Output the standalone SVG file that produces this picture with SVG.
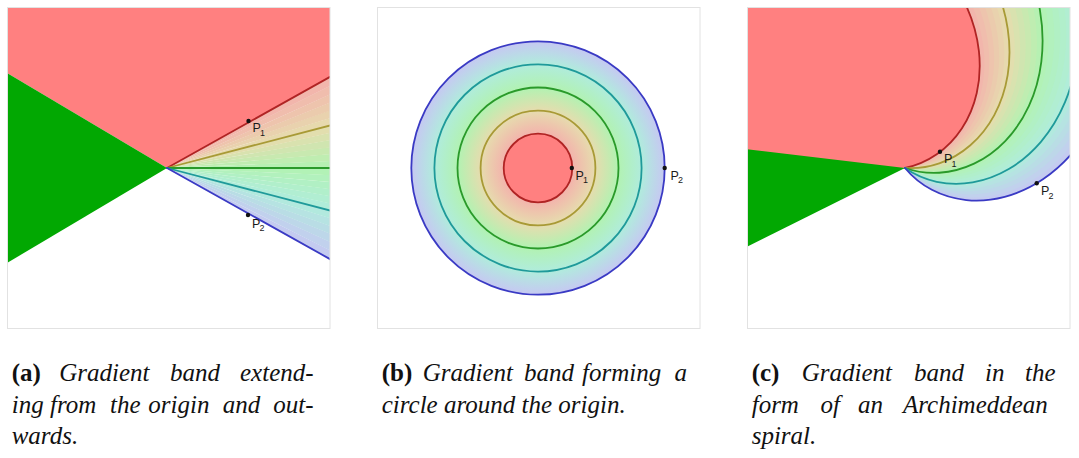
<svg xmlns="http://www.w3.org/2000/svg" xmlns:xlink="http://www.w3.org/1999/xlink" width="1079" height="458" viewBox="0 0 1079 458">
<style>
.frame{fill:none;stroke:#e2e2e2;stroke-width:1}
.red{fill:#ff8080}
.grn{fill:#02a802}
.ln{fill:none;stroke-width:1.8;stroke-linecap:round}
.lr{stroke:#b02424}.lo{stroke:#a89a36}.lg{stroke:#2a9a2a}.lt{stroke:#1f9a9a}.lb{stroke:#3a3ac4}
.dot{fill:#111}
.lbl{font-family:"Liberation Sans",Arial,sans-serif;font-size:12.5px;fill:#1a1a1a}
.sub{font-size:9px}
.cap{font-family:"Liberation Serif","Times New Roman",serif;font-size:25px;fill:#111}
.it{font-style:italic}
.bf{font-weight:bold}
.g0{fill:#c4cbf0}.g1{fill:#c1d1ed}.g2{fill:#bdd7e9}.g3{fill:#b9dde5}.g4{fill:#b6e3e2}.g5{fill:#b2e9de}
.g6{fill:#b0edd9}.g7{fill:#b1eed2}.g8{fill:#b1efcb}.g9{fill:#b1f0c4}.g10{fill:#b2f1bd}.g11{fill:#b2f2b6}
.g12{fill:#b6f0b2}.g13{fill:#bfedb1}.g14{fill:#c8e9b0}.g15{fill:#d0e5b0}.g16{fill:#d9e2af}.g17{fill:#e2deae}
.g18{fill:#e7d9ae}.g19{fill:#e9d2ae}.g20{fill:#ebcbad}.g21{fill:#eec4ad}.g22{fill:#f0bdad}.g23{fill:#f2b6ac}
</style>
<defs>
<path id="W" d="M0,0 L400,0 L400,17.6 Z"/>
<path id="SP" d="M0,0 C11.53,0 23.06,-2.32 33.91,-6.87 C44.76,-11.42 54.91,-18.21 63.74,-26.95 C72.57,-35.69 80.06,-46.39 85.67,-58.61 C91.28,-70.83 95,-84.59 96.42,-99.29 C97.84,-113.99 96.94,-129.64 93.47,-145.58 C90,-161.52 83.95,-177.72 75.23,-193.48 C66.51,-209.24 55.12,-224.55 41.17,-238.66"/>
<path id="S" d="M0,0 C11.53,0 23.06,-2.32 33.91,-6.87 C44.76,-11.42 54.91,-18.21 63.74,-26.95 C72.57,-35.69 80.06,-46.39 85.67,-58.61 C91.28,-70.83 95,-84.59 96.42,-99.29 C97.84,-113.99 96.94,-129.64 93.47,-145.58 C90,-161.52 83.95,-177.72 75.23,-193.48 C66.51,-209.24 55.12,-224.55 41.17,-238.66 L119,-690 L-412,-566 L-693,-99 L-628,310 L-343,610 Z"/>
<clipPath id="clipA"><rect x="7" y="7" width="323" height="322"/></clipPath>
<clipPath id="clipC"><rect x="747" y="7" width="323" height="322"/></clipPath>
<clipPath id="clipCB"><use xlink:href="#S" href="#S" transform="translate(905,168) rotate(50.53)"/></clipPath>
<radialGradient id="rg" gradientUnits="userSpaceOnUse" cx="538" cy="168" r="126.7">
<stop offset="0" stop-color="#f3b3ac"/>
<stop offset="0.2707" stop-color="#f3b3ac"/>
<stop offset="0.453" stop-color="#e6dcae"/>
<stop offset="0.635" stop-color="#b2f2b2"/>
<stop offset="0.818" stop-color="#b0ecdc"/>
<stop offset="1" stop-color="#c6c8f2"/>
</radialGradient>
</defs>
<rect x="0" y="0" width="1079" height="458" fill="#ffffff"/>

<g id="panel-a">
<g clip-path="url(#clipA)">
<polygon class="red" points="7,7 330,7 330,76.9 167,168 7,73"/>
<polygon class="grn" points="7,73 167,168 7,263"/>
<g transform="translate(167,168)">
<use href="#W" class="g0" transform="rotate(26.77)"/>
<use href="#W" class="g1" transform="rotate(24.33)"/>
<use href="#W" class="g2" transform="rotate(21.9)"/>
<use href="#W" class="g3" transform="rotate(19.47)"/>
<use href="#W" class="g4" transform="rotate(17.03)"/>
<use href="#W" class="g5" transform="rotate(14.6)"/>
<use href="#W" class="g6" transform="rotate(12.17)"/>
<use href="#W" class="g7" transform="rotate(9.73)"/>
<use href="#W" class="g8" transform="rotate(7.3)"/>
<use href="#W" class="g9" transform="rotate(4.87)"/>
<use href="#W" class="g10" transform="rotate(2.43)"/>
<use href="#W" class="g11" transform="rotate(0)"/>
<use href="#W" class="g12" transform="rotate(-2.43)"/>
<use href="#W" class="g13" transform="rotate(-4.87)"/>
<use href="#W" class="g14" transform="rotate(-7.3)"/>
<use href="#W" class="g15" transform="rotate(-9.73)"/>
<use href="#W" class="g16" transform="rotate(-12.17)"/>
<use href="#W" class="g17" transform="rotate(-14.6)"/>
<use href="#W" class="g18" transform="rotate(-17.03)"/>
<use href="#W" class="g19" transform="rotate(-19.47)"/>
<use href="#W" class="g20" transform="rotate(-21.9)"/>
<use href="#W" class="g21" transform="rotate(-24.33)"/>
<use href="#W" class="g22" transform="rotate(-26.77)"/>
<use href="#W" class="g23" transform="rotate(-29.2)"/>
</g>
<line class="ln lr" x1="167" y1="168" x2="335" y2="74.1"/>
<line class="ln lo" x1="167" y1="168" x2="335" y2="124.2"/>
<line class="ln lg" x1="167" y1="168" x2="335" y2="168"/>
<line class="ln lt" x1="167" y1="168" x2="335" y2="211.8"/>
<line class="ln lb" x1="167" y1="168" x2="335" y2="261.9"/>
</g>
<rect class="frame" x="7.5" y="7.5" width="322.5" height="321"/>
<circle class="dot" cx="248.5" cy="121" r="2.2"/>
<text class="lbl" x="252.5" y="132">P<tspan class="sub" x="260" y="135.5">1</tspan></text>
<circle class="dot" cx="248" cy="215" r="2.2"/>
<text class="lbl" x="252" y="227.5">P<tspan class="sub" x="259.5" y="231">2</tspan></text>
</g>

<g id="panel-b">
<circle cx="538" cy="168" r="126.7" fill="url(#rg)"/>
<circle class="red" cx="538" cy="168" r="34.3"/>
<circle class="ln lr" cx="538" cy="168" r="34.3"/>
<circle class="ln lo" cx="538" cy="168" r="57.4"/>
<circle class="ln lg" cx="538" cy="168" r="80.5"/>
<circle class="ln lt" cx="538" cy="168" r="103.6"/>
<circle class="ln lb" cx="538" cy="168" r="126.7"/>
<rect class="frame" x="377.5" y="7.5" width="322.5" height="321"/>
<circle class="dot" cx="571.8" cy="168" r="2.2"/>
<text class="lbl" x="575.5" y="179.5">P<tspan class="sub" x="583" y="183">1</tspan></text>
<circle class="dot" cx="664.7" cy="168" r="2.2"/>
<text class="lbl" x="670.5" y="179.5">P<tspan class="sub" x="678" y="183">2</tspan></text>
</g>

<g id="panel-c">
<g clip-path="url(#clipC)">
<g clip-path="url(#clipCB)">
<g transform="translate(905,168)">
<use href="#S" class="g0" transform="rotate(50.53)"/>
<use href="#S" class="g1" transform="rotate(47.93)"/>
<use href="#S" class="g2" transform="rotate(45.33)"/>
<use href="#S" class="g3" transform="rotate(42.73)"/>
<use href="#S" class="g4" transform="rotate(40.13)"/>
<use href="#S" class="g5" transform="rotate(37.53)"/>
<use href="#S" class="g6" transform="rotate(34.93)"/>
<use href="#S" class="g7" transform="rotate(32.32)"/>
<use href="#S" class="g8" transform="rotate(29.72)"/>
<use href="#S" class="g9" transform="rotate(27.12)"/>
<use href="#S" class="g10" transform="rotate(24.52)"/>
<use href="#S" class="g11" transform="rotate(21.92)"/>
<use href="#S" class="g12" transform="rotate(19.32)"/>
<use href="#S" class="g13" transform="rotate(16.72)"/>
<use href="#S" class="g14" transform="rotate(14.12)"/>
<use href="#S" class="g15" transform="rotate(11.52)"/>
<use href="#S" class="g16" transform="rotate(8.91)"/>
<use href="#S" class="g17" transform="rotate(6.31)"/>
<use href="#S" class="g18" transform="rotate(3.71)"/>
<use href="#S" class="g19" transform="rotate(1.11)"/>
<use href="#S" class="g20" transform="rotate(-1.49)"/>
<use href="#S" class="g21" transform="rotate(-4.09)"/>
<use href="#S" class="g22" transform="rotate(-6.69)"/>
<use href="#S" class="g23" transform="rotate(-9.29)"/>
<use href="#S" class="red" transform="rotate(-11.89)"/>
</g>
</g>
<polygon class="grn" points="747,149.3 905,168 747,246.7"/>
<g transform="translate(905,168)">
<use href="#SP" class="ln lr" transform="rotate(-11.89)"/>
<use href="#SP" class="ln lo" transform="rotate(3.72)"/>
<use href="#SP" class="ln lg" transform="rotate(19.31)"/>
<use href="#SP" class="ln lt" transform="rotate(34.95)"/>
<use href="#SP" class="ln lb" transform="rotate(50.53)"/>
</g>
</g>
<rect class="frame" x="747.5" y="7.5" width="322.5" height="321"/>
<circle class="dot" cx="940" cy="151.7" r="2.2"/>
<text class="lbl" x="944" y="163">P<tspan class="sub" x="951.5" y="166.5">1</tspan></text>
<circle class="dot" cx="1036.7" cy="183.3" r="2.2"/>
<text class="lbl" x="1041" y="195">P<tspan class="sub" x="1048.5" y="198.5">2</tspan></text>
</g>

<g id="captions">
<text class="cap" y="381"><tspan class="bf" x="11.7">(a)</tspan><tspan class="it" x="59.3">Gradient</tspan><tspan class="it" x="170">band</tspan><tspan class="it" x="240">extend-</tspan></text>
<text class="cap it" y="412.5"><tspan x="11.7">ing</tspan><tspan x="50">from</tspan><tspan x="110">the</tspan><tspan x="148.3">origin</tspan><tspan x="222.7">and</tspan><tspan x="273.3">out-</tspan></text>
<text class="cap it" x="11.7" y="444">wards.</text>
<text class="cap" y="381"><tspan class="bf" x="381.7">(b)</tspan><tspan class="it" x="422.8">Gradient</tspan><tspan class="it" x="524">band</tspan><tspan class="it" x="582">forming</tspan><tspan class="it" x="674.5">a</tspan></text>
<text class="cap it" x="381.7" y="412.5">circle around the origin.</text>
<text class="cap" y="381"><tspan class="bf" x="751.7">(c)</tspan><tspan class="it" x="801.7">Gradient</tspan><tspan class="it" x="914">band</tspan><tspan class="it" x="985">in</tspan><tspan class="it" x="1025">the</tspan></text>
<text class="cap it" y="412.5"><tspan x="751.7">form</tspan><tspan x="820.5">of</tspan><tspan x="858">an</tspan><tspan x="903">Archimeddean</tspan></text>
<text class="cap it" x="751.7" y="444">spiral.</text>
</g>
</svg>
